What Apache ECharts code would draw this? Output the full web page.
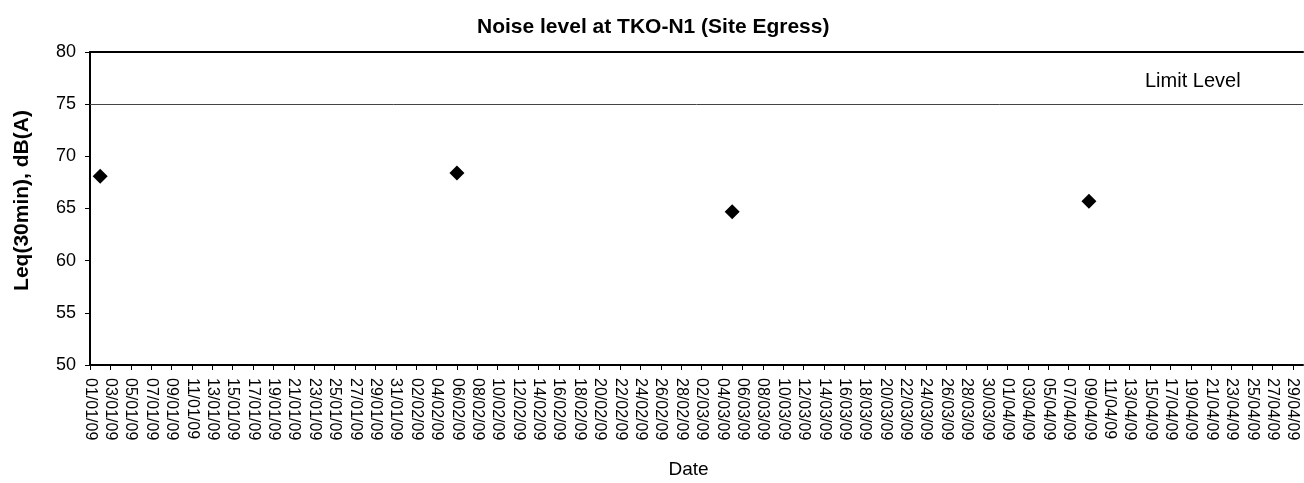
<!DOCTYPE html>
<html>
<head>
<meta charset="utf-8">
<script src="https://cdn.jsdelivr.net/npm/echarts@6/dist/echarts.min.js"></script>
<style>
  html, body { margin: 0; padding: 0; background: #fff; }
  #chart { width: 1304px; height: 483px; }
</style>
</head>
<body>
<div id="chart"></div>
<script>
  // measurement dates and Leq values
  const sampleDates = ['02/01/09', '06/02/09', '05/03/09', '09/04/09']
  const sampleValues = [68.1, 68.4, 64.7, 65.7]
  const limitLevel = 75
  const yTicks = [50, 55, 60, 65, 70, 75, 80]

  // daily categories 01/01/09 .. 30/04/09
  const dayCategories = []
  for (let d = new Date(2009, 0, 1); d <= new Date(2009, 3, 30); d.setDate(d.getDate() + 1)) {
    const dd = String(d.getDate()).padStart(2, '0')
    const mm = String(d.getMonth() + 1).padStart(2, '0')
    dayCategories.push(dd + '/' + mm + '/09')
  }

  const font = '"Liberation Sans", Arial, sans-serif'
  const chart = echarts.init(document.getElementById('chart'))
  chart.setOption({
    backgroundColor: '#fff',
    animation: false,
    title: {
      text: 'Noise level at TKO-N1 (Site Egress)',
      left: 472,
      top: 12,
      textStyle: { fontFamily: font, fontSize: 21, fontWeight: 'bold', color: '#000' }
    },
    grid: { left: 90, top: 52, right: 1, bottom: 118, outerBoundsMode: 'none' },
    xAxis: [{
      type: 'category',
      data: dayCategories,
      boundaryGap: false,
      name: 'Date',
      nameLocation: 'middle',
      nameGap: 95,
      nameTextStyle: { fontFamily: font, fontSize: 19, color: '#000', padding: [0, 16, 0, 0] },
      axisLine: { lineStyle: { color: '#000', width: 2 } },
      axisTick: { interval: 1, length: 5, lineStyle: { color: '#000' } },
      axisLabel: {
        interval: 1,
        rotate: -90,
        margin: 13,
        fontFamily: font,
        fontSize: 16,
        color: '#000'
      },
      splitLine: { show: false }
    }, {
      type: 'category',
      data: dayCategories,
      boundaryGap: false,
      position: 'top',
      axisLine: { lineStyle: { color: '#000', width: 2 } },
      axisTick: { show: false },
      axisLabel: { show: false }
    }],
    yAxis: {
      type: 'value',
      min: yTicks[0],
      max: yTicks[yTicks.length - 1],
      interval: 5,
      name: 'Leq(30min), dB(A)',
      nameLocation: 'middle',
      nameGap: 57,
      nameTextStyle: { fontFamily: font, fontSize: 21, fontWeight: 'bold', color: '#000', padding: [0, 0, 0, 16] },
      axisLine: { show: true, lineStyle: { color: '#000', width: 2 } },
      axisTick: { show: true, length: 5, lineStyle: { color: '#000' } },
      axisLabel: { fontFamily: font, fontSize: 18, color: '#000', margin: 14 },
      splitLine: { show: false }
    },
    series: [{
      type: 'scatter',
      symbol: 'diamond',
      symbolSize: [15, 15],
      itemStyle: { color: '#000', opacity: 1 },
      data: sampleDates.map((d, i) => [d, sampleValues[i]]),
      markLine: {
        silent: true,
        symbol: 'none',
        label: { show: false },
        lineStyle: { color: '#444', width: 1, type: 'solid' },
        data: [{ yAxis: limitLevel }]
      }
    }],
    graphic: [{
      type: 'text',
      left: 1145,
      top: 71,
      style: { text: 'Limit Level', font: '20px ' + font, fill: '#000' }
    }]
  })
</script>
</body>
</html>
